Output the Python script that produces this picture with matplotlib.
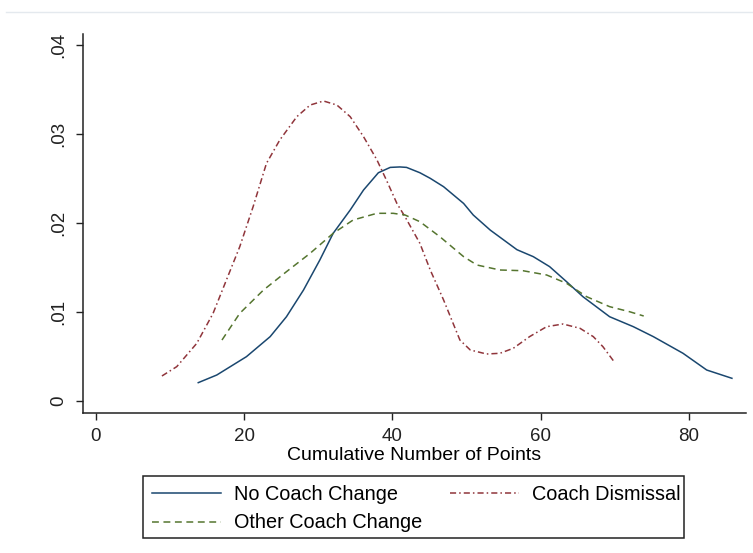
import matplotlib.pyplot as plt
from matplotlib.lines import Line2D
from matplotlib.patches import Rectangle

plt.rcParams['font.family'] = ['Liberation Sans', 'DejaVu Sans']

# kernel density of cumulative points, one curve per group
no_change_x = [13.8, 16.3, 20.3, 23.5, 25.7, 28.0, 30.2, 32.0, 34.3, 36.1, 38.1, 39.7,
               41.0, 41.9, 43.7, 45.1, 46.9, 49.6, 50.9, 53.2, 56.8, 59.0, 61.2, 63.5,
               65.7, 69.3, 72.5, 75.2, 79.2, 82.4, 85.8]
no_change_y = [0.00206, 0.00292, 0.00498, 0.00723, 0.00947, 0.01247, 0.01584, 0.01884,
               0.02146, 0.02371, 0.02565, 0.02625, 0.02630, 0.02625, 0.02565, 0.02502,
               0.02408, 0.02220, 0.02090, 0.01920, 0.01700, 0.01622, 0.01510, 0.01340,
               0.01172, 0.00947, 0.00835, 0.00723, 0.00536, 0.00348, 0.00255]

dismissal_x = [8.9, 10.9, 13.6, 15.8, 17.6, 19.4, 21.2, 23.0, 24.8, 27.1, 28.9, 30.7,
               32.5, 34.3, 36.1, 37.9, 39.2, 40.6, 41.7, 43.7, 45.1, 46.9, 49.1, 50.5,
               52.7, 54.5, 56.3, 58.5, 60.8, 63.0, 65.3, 67.1, 68.4, 69.8]
dismissal_y = [0.00281, 0.00386, 0.00648, 0.00985, 0.01360, 0.01734, 0.02183, 0.02670,
               0.02933, 0.03195, 0.03326, 0.03371, 0.03326, 0.03195, 0.02970, 0.02710,
               0.02480, 0.02220, 0.02070, 0.01772, 0.01472, 0.01135, 0.00685, 0.00573,
               0.00528, 0.00536, 0.00592, 0.00723, 0.00835, 0.00865, 0.00817, 0.00723,
               0.00610, 0.00453]

other_x = [17.0, 19.4, 22.6, 25.7, 28.9, 32.0, 34.7, 37.9, 40.1, 41.7, 43.7, 46.4, 49.6,
           51.4, 54.5, 57.6, 60.8, 63.5, 66.2, 69.3, 72.0, 73.9]
other_y = [0.00685, 0.00985, 0.01247, 0.01453, 0.01660, 0.01884, 0.02034, 0.02109,
           0.02109, 0.02090, 0.02015, 0.01846, 0.01622, 0.01528, 0.01472, 0.01464,
           0.01416, 0.01322, 0.01172, 0.01060, 0.01003, 0.00955]

xticks = [0, 20, 40, 60, 80]
yticks = [0, 0.01, 0.02, 0.03, 0.04]
ytick_labels = ['0', '.01', '.02', '.03', '.04']

navy = '#1a476f'
maroon = '#90353b'
green = '#55752f'

W, H = 753, 553

fig = plt.figure(figsize=(W / 100, H / 100), dpi=100, facecolor='white')
ax = fig.add_axes([83 / W, 1 - 413 / H, (746 - 83) / W, (413 - 34) / H])

l1, = ax.plot(no_change_x, no_change_y, color=navy, lw=1.1)
l2, = ax.plot(dismissal_x, dismissal_y, color=maroon, lw=1.1, dashes=(4, 2, 1, 2))
l3, = ax.plot(other_x, other_y, color=green, lw=1.1, dashes=(4.5, 3))

ax.set_xlim(-1.75, 87.7)
ax.set_ylim(-0.00135, 0.04124)
ax.set_xticks(xticks)
ax.set_yticks(yticks)
ax.set_yticklabels(ytick_labels, rotation=90, va='center')
ax.tick_params(length=5, width=1, pad=6, labelsize=13.5, colors='#222222')
for side in ['top', 'right']:
    ax.spines[side].set_visible(False)
for side in ['left', 'bottom']:
    ax.spines[side].set_linewidth(1.1)
    ax.spines[side].set_color('#222222')
ax.set_xlabel('Cumulative Number of Points', fontsize=14, labelpad=1)

# legend below the plot, two columns inside a plain box
ax.legend([l1, l3, l2], ['No Coach Change', 'Other Coach Change', 'Coach Dismissal'],
          ncol=2, loc='upper left', bbox_to_anchor=(142 / W, 1 - 475 / H),
          bbox_transform=fig.transFigure, frameon=False, fontsize=14.3,
          handlelength=3.5, handletextpad=0.62, columnspacing=1.4,
          borderpad=0, labelspacing=0.48)
fig.add_artist(Rectangle((143 / W, 1 - 538 / H), 541 / W, 62 / H,
                         transform=fig.transFigure, fill=False,
                         edgecolor='#222222', lw=1.1))

fig.add_artist(Line2D([6 / W, 1], [1 - 12 / H, 1 - 12 / H], color='#e4e9ee', lw=1))

fig.savefig('out.png', dpi=100, facecolor='white')
